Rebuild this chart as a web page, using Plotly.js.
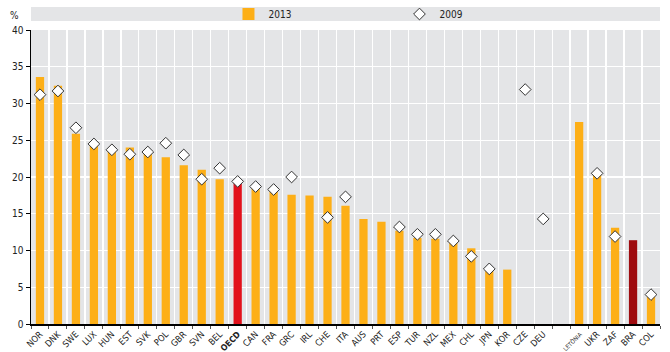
<!DOCTYPE html>
<html>
<head>
<meta charset="utf-8">
<script src="https://cdn.plot.ly/plotly-3.0.1.min.js"></script>
<style>html,body{margin:0;padding:0;background:#fff;}#chart{width:670px;height:352px;}</style>
</head>
<body>
<div id="chart"></div>
<script>
var categories = ["NOR","DNK","SWE","LUX","HUN","EST","SVK","POL","GBR","SVN","BEL","OECD","CAN","FRA","GRC","IRL","CHE","ITA","AUS","PRT","ESP","TUR","NZL","MEX","CHL","JPN","KOR","CZE","DEU"," ","LETÔNIA","UKR","ZAF","BRA","COL"];
var tickLabels = ["NOR","DNK","SWE","LUX","HUN","EST","SVK","POL","GBR","SVN","BEL","<span style='font-weight:bold;font-size:8.5px'>OECD</span>","CAN","FRA","GRC","IRL","CHE","ITA","AUS","PRT","ESP","TUR","NZL","MEX","CHL","JPN","KOR","CZE","DEU","","<span style='font-size:6px'>LETÔNIA</span>","UKR","ZAF","BRA","COL"];
var values2013 = [33.6,32.4,25.9,24.8,23.6,24.0,23.4,22.7,21.6,21.0,19.7,19.3,18.4,18.0,17.6,17.5,17.3,16.1,14.3,13.9,12.7,11.7,11.6,11.2,10.3,7.4,7.4,null,null,null,27.5,20.4,13.1,11.4,3.7];
var values2009 = [31.2,31.7,26.7,24.5,23.7,23.1,23.4,24.6,23.0,19.7,21.2,19.4,18.7,18.3,20.0,null,14.5,17.3,null,null,13.2,12.2,12.2,11.3,9.2,7.5,null,31.9,14.3,null,null,20.5,11.9,null,4.0];

var barColors = categories.map(function(c){
  if (c === "OECD") return "#E2111B";
  if (c === "BRA") return "#9E0B0F";
  return "#FDAF17";
});

var narrow = "Liberation Sans Narrow, Arial Narrow, DejaVu Sans Condensed, sans-serif";

var traces = [
  {type:"bar", name:"2013", x:categories, y:values2013,
   marker:{color:barColors, line:{width:0}}},
  {type:"scatter", mode:"markers", name:"2009", x:categories, y:values2009,
   marker:{symbol:"diamond", size:9, color:"#ffffff", line:{color:"#333333", width:1}}}
];

var layout = {
  width:670, height:352,
  margin:{l:31, r:10, t:30, b:28},
  paper_bgcolor:"#ffffff",
  plot_bgcolor:"#E4E5E7",
  bargap:0.54,
  showlegend:true,
  legend:{orientation:"h", xref:"container", yref:"container", x:0.341, xanchor:"left", y:1-14/352, yanchor:"middle",
          bgcolor:"rgba(0,0,0,0)", entrywidth:126, font:{family:narrow, size:10, color:"#222"},
          tracegroupgap:0},
  xaxis:{type:"category", categoryorder:"array", categoryarray:categories,
         range:[-0.5, 34.5],
         tickvals:categories, ticktext:tickLabels,
         tickson:"boundaries", ticks:"outside", ticklen:3, tickcolor:"#555",
         showgrid:true, gridcolor:"#ffffff", gridwidth:1.3,
         showline:true, linecolor:"#000", linewidth:1.5,
         tickangle:-45, tickfont:{family:narrow, size:9, color:"#222"},
         automargin:false, fixedrange:true},
  yaxis:{range:[0,40], dtick:5, ticks:"outside", ticklen:4, tickcolor:"#000",
         showgrid:true, gridcolor:"#ffffff", gridwidth:1.3,
         showline:true, linecolor:"#000", linewidth:1.5, zeroline:false,
         tickfont:{family:narrow, size:10, color:"#222"},
         automargin:false, fixedrange:true},
  shapes:[{type:"rect", xref:"paper", yref:"paper", x0:0, x1:1, y0:1.0306, y1:1.078,
           fillcolor:"#E4E5E7", line:{width:0}, layer:"below"}],
  annotations:[{text:"%", xref:"paper", yref:"paper", x:-0.027, y:1.025, xanchor:"center", yanchor:"bottom",
                showarrow:false, font:{family:narrow, size:10, color:"#222"}}]
};

Plotly.newPlot("chart", traces, layout, {displayModeBar:false, staticPlot:true});
</script>
</body>
</html>
